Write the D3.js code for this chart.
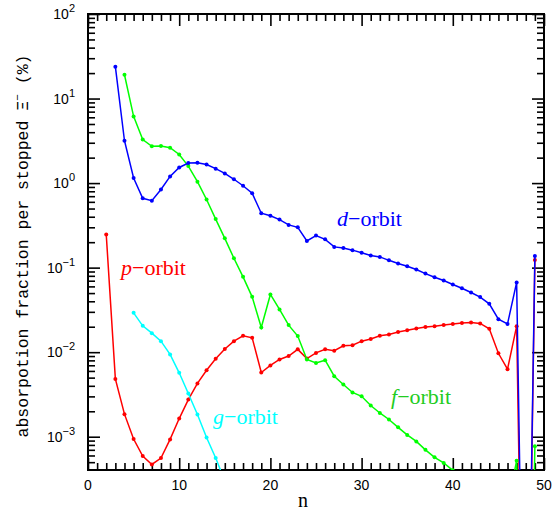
<!DOCTYPE html>
<html>
<head>
<meta charset="utf-8">
<script src="https://cdn.jsdelivr.net/npm/d3@7"></script>
<style>
  body { margin: 0; background: #fff; }
  svg { display: block; }
</style>
</head>
<body>
<div id="chart"></div>
<script>
//------------------------------------------ data ------------------------------------------
const pN = d3.range(2, 50);
const pVal = [0.247, 0.00483, 0.00185, 9.4e-4, 5.9e-4, 4.7e-4, 5.6e-4, 9.3e-4, 0.00164, 0.00275,
              0.00427, 0.00612, 0.00834, 0.0109, 0.0135, 0.0156, 0.0148, 0.00575, 0.00697, 0.0082,
              0.0090, 0.0108, 0.0084, 0.0098, 0.0108, 0.0104, 0.0119, 0.0121, 0.0135, 0.0143,
              0.0156, 0.0162, 0.0173, 0.0182, 0.0191, 0.0198, 0.0203, 0.0210, 0.0216, 0.0222,
              0.0224, 0.0219, 0.0189, 0.0097, 0.0063, 0.0203, 1e-8, 0.123];

const dN = d3.range(3, 50);
const dVal = [23.8, 3.17, 1.15, 0.66, 0.62, 0.84, 1.2, 1.53, 1.73, 1.74,
              1.66, 1.48, 1.30, 1.11, 0.93, 0.76, 0.44, 0.41, 0.37, 0.32,
              0.30, 0.207, 0.24, 0.216, 0.176, 0.171, 0.161, 0.150, 0.139, 0.134,
              0.122, 0.112, 0.104, 0.095, 0.085, 0.077, 0.0705, 0.0632, 0.0571, 0.0508,
              0.0448, 0.0373, 0.0246, 0.0216, 0.0668, 2e-8, 0.137];

const fN = d3.range(4, 50);
const fVal = [19.1, 6.15, 3.28, 2.72, 2.75, 2.62, 2.18, 1.59, 1.04, 0.64,
              0.375, 0.222, 0.129, 0.0778, 0.0451, 0.0196, 0.0482, 0.0320, 0.0209, 0.0155,
              0.0082, 0.00747, 0.00804, 0.0052, 0.00415, 0.00334, 0.00301, 0.00234, 0.00191, 0.0016,
              0.00129, 0.00105, 8.8e-4, 7.0e-4, 5.7e-4, 4.9e-4, 4.0e-4, 3.3e-4, 2.8e-4, 2.3e-4,
              2.0e-4, 1.7e-4, 1.5e-4, 5.2e-4, 1e-9, 7.7e-4];

const gN = d3.range(5, 16);
const gVal = [0.0292, 0.0205, 0.0168, 0.0135, 0.0094, 0.0057, 0.00324, 0.00183, 9.8e-4, 5.6e-4, 3.0e-4];

const xTickLabels = [0, 10, 20, 30, 40, 50];
const yExponents = [-3, -2, -1, 0, 1, 2];

//------------------------------------------ layout ------------------------------------------
const W = 552, H = 512;
const margin = {top: 14, right: 8, bottom: 42, left: 88};
const w = W - margin.left - margin.right;
const h = H - margin.top - margin.bottom;

const svg = d3.select("#chart").append("svg")
    .attr("width", W)
    .attr("height", H);

const x = d3.scaleLinear().domain([0, 50]).range([margin.left, margin.left + w]);
const y = d3.scaleLog().domain([4.04e-4, 100]).range([margin.top + h, margin.top]);

svg.append("clipPath").attr("id", "clip")
  .append("rect")
    .attr("x", margin.left).attr("y", margin.top)
    .attr("width", w).attr("height", h);

//------------------------------------------ axes (ticks inward on all four sides) ------------------------------------------
const xMajor = d3.range(0, 51, 10);
const xMinor = d3.range(0, 51).filter(d => d % 10 != 0);
const yMajor = yExponents.map(e => Math.pow(10, e));
let yMinor = [];
d3.range(-4, 2).forEach(e => { for (let k = 2; k <= 9; k++) yMinor.push(k * Math.pow(10, e)); });
yMinor = yMinor.filter(v => v >= y.domain()[0] && v <= 100);

function tickAxis(axisFn, scale, values, size, tr) {
  const g = svg.append("g")
      .attr("transform", tr)
      .call(axisFn(scale).tickValues(values).tickSize(size).tickFormat(""));
  g.select(".domain").remove();
  g.selectAll("line").attr("stroke", "#000").attr("stroke-width", 1.6);
  return g;
}

// bottom / top
tickAxis(d3.axisBottom, x, xMajor, -12, "translate(0," + (margin.top + h) + ")");
tickAxis(d3.axisBottom, x, xMinor, -7, "translate(0," + (margin.top + h) + ")");
tickAxis(d3.axisTop, x, xMajor, -12, "translate(0," + margin.top + ")");
tickAxis(d3.axisTop, x, xMinor, -7, "translate(0," + margin.top + ")");
// left / right
tickAxis(d3.axisLeft, y, yMajor, -12, "translate(" + margin.left + ",0)");
tickAxis(d3.axisLeft, y, yMinor, -7, "translate(" + margin.left + ",0)");
tickAxis(d3.axisRight, y, yMajor, -12, "translate(" + (margin.left + w) + ",0)");
tickAxis(d3.axisRight, y, yMinor, -7, "translate(" + (margin.left + w) + ",0)");

// frame
svg.append("rect")
    .attr("x", margin.left).attr("y", margin.top)
    .attr("width", w).attr("height", h)
    .attr("fill", "none")
    .attr("stroke", "#000")
    .attr("stroke-width", 2);

// tick labels
svg.selectAll(".xlab")
  .data(xTickLabels)
  .enter().append("text")
    .attr("class", "xlab")
    .attr("x", d => x(d))
    .attr("y", 490)
    .attr("text-anchor", "middle")
    .style("font-family", "Liberation Sans, Arial, sans-serif")
    .style("font-size", "14px")
    .text(d => d);

const ylab = svg.selectAll(".ylab")
  .data(yExponents)
  .enter().append("text")
    .attr("class", "ylab")
    .attr("x", 75)
    .attr("y", d => y(Math.pow(10, d)) + 5)
    .attr("text-anchor", "end")
    .style("font-family", "Liberation Sans, Arial, sans-serif")
    .style("font-size", "14px");
ylab.append("tspan").text("10");
ylab.append("tspan")
    .attr("dy", -7)
    .style("font-size", "11px")
    .text(d => d < 0 ? "\u2212" + (-d) : d);

// axis titles
svg.append("text")
    .attr("x", 303)
    .attr("y", 507)
    .attr("text-anchor", "middle")
    .style("font-family", "Liberation Serif, Times New Roman, serif")
    .style("font-size", "20px")
    .text("n");

const yt = svg.append("text")
    .attr("transform", "translate(28,246) rotate(-90)")
    .attr("text-anchor", "middle")
    .style("font-family", "Liberation Mono, DejaVu Sans Mono, monospace")
    .style("font-size", "16.5px");
yt.append("tspan").text("absorpotion fraction per stopped \u039E");
yt.append("tspan").attr("dy", -7).style("font-size", "11px").text("\u2212");
yt.append("tspan").attr("dy", 7).text(" (%)");

//------------------------------------------ series ------------------------------------------
const series = [
  {name: "p", n: pN, v: pVal, color: "#ff0000"},
  {name: "g", n: gN, v: gVal, color: "#00ffff"},
  {name: "f", n: fN, v: fVal, color: "#00ff00"},
  {name: "d", n: dN, v: dVal, color: "#0000ff"}
];

const line = d3.line()
    .x(d => x(d[0]))
    .y(d => y(d[1]));

const plot = svg.append("g").attr("clip-path", "url(#clip)");

series.forEach(s => {
  const pts = s.n.map((n, i) => [n, s.v[i]]);
  plot.append("path")
      .datum(pts)
      .attr("fill", "none")
      .attr("stroke", s.color)
      .attr("stroke-width", 1.5)
      .attr("d", line);
  plot.selectAll(".dot-" + s.name)
    .data(pts)
    .enter().append("circle")
      .attr("class", "dot-" + s.name)
      .attr("cx", d => x(d[0]))
      .attr("cy", d => y(d[1]))
      .attr("r", 2)
      .attr("fill", s.color);
});

//------------------------------------------ series labels ------------------------------------------
const labels = [
  {letter: "d", x: 337, y: 226, color: "#0000ff"},
  {letter: "p", x: 121, y: 275, color: "#ff0000"},
  {letter: "g", x: 213, y: 424, color: "#00ffff"},
  {letter: "f", x: 391, y: 404, color: "#22cc22"}
];

labels.forEach(l => {
  const t = svg.append("text")
      .attr("x", l.x)
      .attr("y", l.y)
      .attr("fill", l.color)
      .style("font-family", "Liberation Serif, Times New Roman, serif")
      .style("font-size", "22px");
  t.append("tspan").style("font-style", "italic").text(l.letter);
  t.append("tspan").text("\u2212orbit");
});
</script>
</body>
</html>
